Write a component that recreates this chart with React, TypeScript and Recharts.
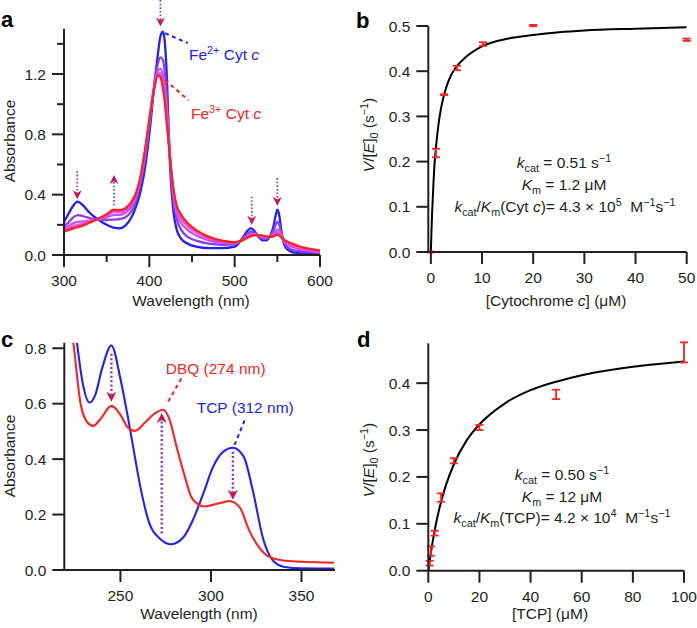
import React from 'react';
import { LineChart, ComposedChart, Line, Scatter, ErrorBar, XAxis, YAxis, ReferenceLine } from 'recharts';

const FONT = '"Liberation Sans", Arial, Helvetica, sans-serif';
const INK = '#231f20';
const BLUE = '#2020ff';
const RED = '#ff2020';
const PURPLE = '#8a3df5';
const VIOLET = '#bf55f5';
const PINK = '#f048e0';
const ARROW_LINE = '#8a30c8';
const ARROW_HEAD = '#cc1450';

// ---- panel a: cytochrome c spectra ----
const WL_A = [300, 305, 310, 316, 322, 330, 340, 350, 358, 365, 372, 380, 385, 390, 395, 400, 405, 410, 413, 416, 418, 420, 424, 428, 432, 437, 445, 455, 470, 485, 500, 505, 510, 515, 519, 523, 528, 533, 537, 541, 545, 548, 550, 552, 555, 558, 562, 570, 580, 600];
const FE2_A = [0.22, 0.27, 0.32, 0.354, 0.33, 0.28, 0.235, 0.2, 0.182, 0.177, 0.195, 0.26, 0.33, 0.43, 0.58, 0.8, 1.08, 1.33, 1.45, 1.48, 1.42, 1.25, 0.62, 0.3, 0.17, 0.11, 0.075, 0.055, 0.045, 0.045, 0.055, 0.08, 0.12, 0.16, 0.178, 0.16, 0.12, 0.097, 0.097, 0.12, 0.18, 0.26, 0.3, 0.27, 0.15, 0.07, 0.035, 0.015, 0.01, 0.005];
const MID1_A = [0.19, 0.215, 0.245, 0.265, 0.258, 0.245, 0.235, 0.232, 0.235, 0.238, 0.25, 0.3, 0.37, 0.48, 0.64, 0.86, 1.1, 1.27, 1.31, 1.29, 1.22, 1.1, 0.66, 0.37, 0.24, 0.17, 0.12, 0.095, 0.075, 0.068, 0.07, 0.085, 0.11, 0.14, 0.155, 0.148, 0.125, 0.11, 0.108, 0.12, 0.155, 0.2, 0.22, 0.205, 0.14, 0.085, 0.05, 0.03, 0.022, 0.012];
const MID2_A = [0.175, 0.19, 0.208, 0.22, 0.222, 0.228, 0.237, 0.25, 0.265, 0.266, 0.28, 0.33, 0.395, 0.505, 0.67, 0.88, 1.09, 1.22, 1.235, 1.19, 1.12, 1.0, 0.66, 0.41, 0.28, 0.215, 0.165, 0.13, 0.097, 0.08, 0.077, 0.087, 0.105, 0.127, 0.14, 0.14, 0.128, 0.118, 0.115, 0.12, 0.138, 0.16, 0.17, 0.162, 0.125, 0.092, 0.068, 0.05, 0.035, 0.02];
const MID3_A = [0.163, 0.175, 0.188, 0.2, 0.207, 0.222, 0.24, 0.262, 0.285, 0.284, 0.297, 0.345, 0.41, 0.52, 0.69, 0.89, 1.085, 1.2, 1.205, 1.14, 1.06, 0.94, 0.66, 0.43, 0.31, 0.245, 0.19, 0.15, 0.11, 0.09, 0.082, 0.088, 0.1, 0.12, 0.13, 0.135, 0.13, 0.123, 0.12, 0.12, 0.128, 0.142, 0.15, 0.145, 0.12, 0.096, 0.078, 0.06, 0.042, 0.025];
const FE3_A = [0.155, 0.165, 0.175, 0.185, 0.195, 0.215, 0.24, 0.27, 0.3, 0.298, 0.31, 0.36, 0.42, 0.53, 0.7, 0.9, 1.08, 1.19, 1.18, 1.1, 1.02, 0.9, 0.66, 0.45, 0.33, 0.27, 0.21, 0.165, 0.12, 0.095, 0.085, 0.09, 0.1, 0.115, 0.125, 0.13, 0.132, 0.128, 0.124, 0.12, 0.122, 0.13, 0.135, 0.13, 0.115, 0.1, 0.088, 0.07, 0.05, 0.03];
const SERIES_A = [
  { values: FE2_A, color: BLUE },
  { values: MID1_A, color: PURPLE },
  { values: MID2_A, color: VIOLET },
  { values: MID3_A, color: PINK },
  { values: FE3_A, color: RED },
];
const ARROWS_A = [
  { x: 315.5, from: 0.557, to: 0.37 },
  { x: 358.6, from: 0.33, to: 0.53 },
  { x: 413, from: 1.69, to: 1.515 },
  { x: 520, from: 0.387, to: 0.2 },
  { x: 550, from: 0.51, to: 0.327 },
];
const LEADERS_A = [
  { color: BLUE, x1: 418.5, y1: 1.47, x2: 445, y2: 1.405 },
  { color: RED, x1: 418.4, y1: 1.16, x2: 445.7, y2: 1.028 },
];

// ---- panel b: cytochrome c kinetics ----
const CONC_B = [0, 1, 2.6, 5.1, 10.2, 20, 50];
const RATE_B = [0, 0.219, 0.348, 0.407, 0.46, 0.501, 0.4695];
const ERR_B = [0.001, 0.0095, 0.001, 0.005, 0.004, 0.0015, 0.0025];
const FIT_X_B = [0, 0.1, 0.25, 0.5, 0.75, 1, 1.5, 2, 3, 4, 5, 7, 10, 15, 20, 25, 30, 40, 50];
const FIT_Y_B = [0, 0.04, 0.088, 0.15, 0.2, 0.232, 0.283, 0.319, 0.364, 0.392, 0.41, 0.433, 0.455, 0.472, 0.48, 0.486, 0.49, 0.494, 0.497];

// ---- panel c: TCP / DBQ spectra ----
const WL_TCP = [219, 222, 226, 229, 233, 236, 240, 245, 250, 254, 257, 261, 266, 272, 278, 285, 290, 296, 301, 307, 312, 318, 323, 329, 334, 340, 350, 368];
const ABS_TCP = [1.3, 1.05, 0.82, 0.68, 0.604, 0.63, 0.73, 0.81, 0.69, 0.555, 0.445, 0.3, 0.168, 0.112, 0.093, 0.12, 0.18, 0.28, 0.37, 0.428, 0.441, 0.41, 0.29, 0.108, 0.036, 0.012, 0.006, 0.005];
const WL_DBQ = [219, 224, 228, 231, 235, 239, 245, 250, 254, 258, 264, 269, 273.5, 277, 281, 285, 289, 293, 296, 301, 306, 310, 316, 321, 327, 332, 340, 350, 368];
const ABS_DBQ = [1.05, 0.82, 0.6, 0.54, 0.52, 0.545, 0.592, 0.56, 0.515, 0.502, 0.535, 0.565, 0.578, 0.545, 0.445, 0.35, 0.265, 0.237, 0.229, 0.235, 0.243, 0.249, 0.225, 0.144, 0.078, 0.048, 0.034, 0.03, 0.026];
const ARROWS_C = [
  { x: 245, from: 0.78, to: 0.607 },
  { x: 272.8, from: 0.132, to: 0.566 },
  { x: 312.1, from: 0.427, to: 0.253 },
];
const LEADERS_C = [
  { color: RED, x1: 276.4, y1: 0.608, x2: 283.7, y2: 0.692 },
  { color: BLUE, x1: 313, y1: 0.451, x2: 318.6, y2: 0.54 },
];

// ---- panel d: TCP kinetics ----
const CONC_D = [0.5, 1, 2.5, 5, 10, 20, 50, 100];
const RATE_D = [0.016, 0.042, 0.08, 0.156, 0.2345, 0.3055, 0.376, 0.4655];
const ERR_D = [0.005, 0.01, 0.005, 0.009, 0.0055, 0.0055, 0.01, 0.0215];
const FIT_X_D = [0, 1, 2, 3, 5, 7, 10, 15, 20, 30, 40, 50, 60, 70, 80, 90, 100];
const FIT_Y_D = [0, 0.038, 0.071, 0.1, 0.147, 0.184, 0.227, 0.278, 0.312, 0.357, 0.385, 0.403, 0.417, 0.427, 0.435, 0.441, 0.446];

const TICK = 12;
const MINOR = 7;
const XM = 8;
const YM = 6;
const FS = 15.5;

const near = (list: number[], v: number) => list.some((m) => Math.abs(m - v) < 1e-6);

function xTick(majors: number[], fmt: (v: number) => string) {
  return (p: any) => {
    const v = p.payload.value;
    const major = near(majors, v);
    const y0 = p.y - TICK - XM;
    return (
      <g>
        <line x1={p.x} x2={p.x} y1={y0} y2={y0 + (major ? TICK : MINOR)} stroke={INK} strokeWidth={2} />
        {major && (
          <text x={p.x} y={p.y} dy="0.71em" textAnchor="middle" fontFamily={FONT} fontSize={FS} fill={INK}>
            {fmt(v)}
          </text>
        )}
      </g>
    );
  };
}

function yTick(majors: number[], fmt: (v: number) => string) {
  return (p: any) => {
    const v = p.payload.value;
    const major = near(majors, v);
    const x0 = p.x + TICK + YM;
    return (
      <g>
        <line x1={x0 - (major ? TICK : MINOR)} x2={x0} y1={p.y} y2={p.y} stroke={INK} strokeWidth={2} />
        {major && (
          <text x={p.x} y={p.y} dy="0.355em" textAnchor="end" fontFamily={FONT} fontSize={FS} fill={INK}>
            {fmt(v)}
          </text>
        )}
      </g>
    );
  };
}

const arrowShape = (width: number, dash: string, hl: number, hw: number) => (p: any) => {
  const { x1, y1, x2, y2 } = p;
  const dx = x2 - x1;
  const dy = y2 - y1;
  const len = Math.hypot(dx, dy) || 1;
  const ux = dx / len;
  const uy = dy / len;
  const bx = x2 - ux * hl;
  const by = y2 - uy * hl;
  const nx = -uy;
  const ny = ux;
  const kx = x2 - ux * hl * 0.7;
  const ky = y2 - uy * hl * 0.7;
  return (
    <g>
      <line x1={x1} y1={y1} x2={kx} y2={ky} stroke={ARROW_LINE} strokeWidth={width} strokeDasharray={dash} />
      <polygon points={`${x2},${y2} ${bx + nx * hw},${by + ny * hw} ${kx},${ky} ${bx - nx * hw},${by - ny * hw}`} fill={ARROW_HEAD} />
    </g>
  );
};

const arrowA = arrowShape(1.7, '1.6 2', 9, 4.5);
const arrowC = arrowShape(2.4, '2 2.4', 10, 5);

const leaderShape = (color: string) => (p: any) => (
  <line x1={p.x1} y1={p.y1} x2={p.x2} y2={p.y2} stroke={color} strokeWidth={2} strokeDasharray="4 3.5" />
);

const axisLine = { stroke: INK, strokeWidth: 2 };
const f1 = (v: number) => v.toFixed(1);
const f0 = (v: number) => String(v);

function PanelA() {
  return (
    <LineChart width={340} height={300} margin={{ top: 28.75, right: 20, bottom: 0, left: 0 }}>
      <XAxis
        type="number"
        dataKey="x"
        domain={[300, 600]}
        ticks={[300, 350, 400, 450, 500, 550, 600]}
        interval={0}
        height={45}
        tickSize={TICK}
        tickMargin={XM}
        tickLine={false}
        axisLine={axisLine}
        tick={xTick([300, 400, 500, 600], f0)}
        allowDataOverflow
      />
      <YAxis
        type="number"
        domain={[0, 1.5]}
        ticks={[0, 0.2, 0.4, 0.6, 0.8, 1.0, 1.2, 1.4]}
        interval={0}
        width={64}
        tickSize={TICK}
        tickMargin={YM}
        tickLine={false}
        axisLine={axisLine}
        tick={yTick([0, 0.4, 0.8, 1.2], f1)}
        allowDataOverflow
      />
      {SERIES_A.map((s, k) => (
        <Line
          key={k}
          data={WL_A.map((x, i) => ({ x, v: s.values[i] }))}
          dataKey="v"
          type="monotone"
          stroke={s.color}
          strokeWidth={2.3}
          dot={false}
          isAnimationActive={false}
        />
      ))}
      {ARROWS_A.map((a, i) => (
        <ReferenceLine key={`ar${i}`} segment={[{ x: a.x, y: a.from }, { x: a.x, y: a.to }]} ifOverflow="visible" shape={arrowA} />
      ))}
      {LEADERS_A.map((l, i) => (
        <ReferenceLine key={`ld${i}`} segment={[{ x: l.x1, y: l.y1 }, { x: l.x2, y: l.y2 }]} ifOverflow="visible" shape={leaderShape(l.color)} />
      ))}
    </LineChart>
  );
}

function PanelC() {
  return (
    <LineChart width={340} height={328} margin={{ top: 42.7, right: 5, bottom: 0, left: 0 }}>
      <XAxis
        type="number"
        dataKey="x"
        domain={[219, 368.5]}
        ticks={[250, 300, 350]}
        interval={0}
        height={58}
        tickSize={TICK}
        tickMargin={XM}
        tickLine={false}
        axisLine={axisLine}
        tick={xTick([250, 300, 350], f0)}
        allowDataOverflow
      />
      <YAxis
        type="number"
        domain={[0, 0.82]}
        ticks={[0, 0.2, 0.4, 0.6, 0.8]}
        interval={0}
        width={64.3}
        tickSize={TICK}
        tickMargin={YM}
        tickLine={false}
        axisLine={axisLine}
        tick={yTick([0, 0.2, 0.4, 0.6, 0.8], f1)}
        allowDataOverflow
      />
      <Line
        data={WL_TCP.map((x, i) => ({ x, v: ABS_TCP[i] }))}
        dataKey="v"
        type="monotone"
        stroke={BLUE}
        strokeWidth={2.1}
        dot={false}
        isAnimationActive={false}
      />
      <Line
        data={WL_DBQ.map((x, i) => ({ x, v: ABS_DBQ[i] }))}
        dataKey="v"
        type="monotone"
        stroke={RED}
        strokeWidth={2.1}
        dot={false}
        isAnimationActive={false}
      />
      {ARROWS_C.map((a, i) => (
        <ReferenceLine key={`ar${i}`} segment={[{ x: a.x, y: a.from }, { x: a.x, y: a.to }]} ifOverflow="visible" shape={arrowC} />
      ))}
      {LEADERS_C.map((l, i) => (
        <ReferenceLine key={`ld${i}`} segment={[{ x: l.x1, y: l.y1 }, { x: l.x2, y: l.y2 }]} ifOverflow="visible" shape={leaderShape(l.color)} />
      ))}
    </LineChart>
  );
}

function KineticsPanel(props: {
  height: number;
  top: number;
  right: number;
  xHeight: number;
  xDomain: [number, number];
  xTicks: number[];
  yDomain: [number, number];
  yTicks: number[];
  fitX: number[];
  fitY: number[];
  conc: number[];
  rate: number[];
  err: number[];
}) {
  const fit = props.fitX.map((x, i) => ({ x, v: props.fitY[i] }));
  const pts = props.conc.map((x, i) => ({ x, v: props.rate[i], err: props.err[i] }));
  return (
    <ComposedChart width={357} height={props.height} margin={{ top: props.top, right: props.right, bottom: 0, left: 0 }}>
      <XAxis
        type="number"
        dataKey="x"
        domain={props.xDomain}
        ticks={props.xTicks}
        interval={0}
        height={props.xHeight}
        tickSize={TICK}
        tickMargin={XM}
        tickLine={false}
        axisLine={axisLine}
        tick={xTick(props.xTicks, f0)}
        allowDataOverflow
      />
      <YAxis
        type="number"
        domain={props.yDomain}
        ticks={props.yTicks}
        interval={0}
        width={88.3}
        tickSize={TICK}
        tickMargin={YM}
        tickLine={false}
        axisLine={axisLine}
        tick={yTick(props.yTicks, f1)}
        allowDataOverflow
      />
      <Line data={fit} dataKey="v" type="monotone" stroke="#000" strokeWidth={2} dot={false} isAnimationActive={false} />
      <Scatter data={pts} dataKey="v" shape={() => <g />} isAnimationActive={false}>
        <ErrorBar dataKey="err" direction="y" width={4} stroke={RED} strokeWidth={1.8} isAnimationActive={false} />
      </Scatter>
    </ComposedChart>
  );
}

const SUB = 10.8;

function Overlay() {
  const t = { fontFamily: FONT, fontSize: FS, fill: INK } as const;
  return (
    <svg width={697} height={628} style={{ position: 'absolute', left: 0, top: 0, pointerEvents: 'none' }}>
      {/* panel letters */}
      <text x={1} y={27} fontFamily={FONT} fontSize={22} fontWeight="bold" fill="#000">a</text>
      <text x={356} y={28} fontFamily={FONT} fontSize={22} fontWeight="bold" fill="#000">b</text>
      <text x={1} y={347} fontFamily={FONT} fontSize={22} fontWeight="bold" fill="#000">c</text>
      <text x={357} y={347} fontFamily={FONT} fontSize={22} fontWeight="bold" fill="#000">d</text>

      {/* axis titles */}
      <text x={191} y={306} textAnchor="middle" {...t}>Wavelength (nm)</text>
      <text transform="translate(15,141) rotate(-90)" textAnchor="middle" {...t}>Absorbance</text>
      <text x={556} y={306} textAnchor="middle" {...t}>
        [Cytochrome <tspan fontStyle="italic">c</tspan>] (μM)
      </text>
      <text transform="translate(374,135) rotate(-90)" textAnchor="middle" {...t}>
        <tspan fontStyle="italic">V</tspan>/[<tspan fontStyle="italic">E</tspan>]
        <tspan fontSize={SUB} dy={4}>0</tspan>
        <tspan dy={-4}> (s</tspan>
        <tspan fontSize={SUB} dy={-6}>−1</tspan>
        <tspan dy={6}>)</tspan>
      </text>
      <text x={199} y={619} textAnchor="middle" {...t}>Wavelength (nm)</text>
      <text transform="translate(15,456) rotate(-90)" textAnchor="middle" {...t}>Absorbance</text>
      <text x={550} y={619} textAnchor="middle" {...t}>[TCP] (μM)</text>
      <text transform="translate(374,460) rotate(-90)" textAnchor="middle" {...t}>
        <tspan fontStyle="italic">V</tspan>/[<tspan fontStyle="italic">E</tspan>]
        <tspan fontSize={SUB} dy={4}>0</tspan>
        <tspan dy={-4}> (s</tspan>
        <tspan fontSize={SUB} dy={-6}>−1</tspan>
        <tspan dy={6}>)</tspan>
      </text>

      {/* panel a labels */}
      <text x={189} y={60} {...t} fill={BLUE}>
        Fe<tspan fontSize={SUB} dy={-6}>2+</tspan>
        <tspan dy={6}> Cyt </tspan>
        <tspan fontStyle="italic">c</tspan>
      </text>
      <text x={191} y={119} {...t} fill={RED}>
        Fe<tspan fontSize={SUB} dy={-6}>3+</tspan>
        <tspan dy={6}> Cyt </tspan>
        <tspan fontStyle="italic">c</tspan>
      </text>

      {/* panel c labels */}
      <text x={165.7} y={374} {...t} fill={RED}>DBQ (274 nm)</text>
      <text x={196.7} y={413} {...t} fill={BLUE}>TCP (312 nm)</text>

      {/* panel b constants */}
      <text x={564} y={168} textAnchor="middle" {...t}>
        <tspan fontStyle="italic">k</tspan>
        <tspan fontSize={SUB} dy={4}>cat</tspan>
        <tspan dy={-4}> = 0.51 s</tspan>
        <tspan fontSize={SUB} dy={-6}>−1</tspan>
      </text>
      <text x={564} y={190} textAnchor="middle" {...t}>
        <tspan fontStyle="italic">K</tspan>
        <tspan fontSize={SUB} dy={4}>m</tspan>
        <tspan dy={-4}> = 1.2 μM</tspan>
      </text>
      <text x={565} y={212} textAnchor="middle" {...t}>
        <tspan fontStyle="italic">k</tspan>
        <tspan fontSize={SUB} dy={4}>cat</tspan>
        <tspan dy={-4}>/</tspan>
        <tspan fontStyle="italic">K</tspan>
        <tspan fontSize={SUB} dy={4}>m</tspan>
        <tspan dy={-4}>(Cyt </tspan>
        <tspan fontStyle="italic">c</tspan>
        <tspan>)= 4.3 × 10</tspan>
        <tspan fontSize={SUB} dy={-6}>5</tspan>
        <tspan dy={6}>{'\u00a0\u00a0'}M</tspan>
        <tspan fontSize={SUB} dy={-6}>−1</tspan>
        <tspan dy={6}>s</tspan>
        <tspan fontSize={SUB} dy={-6}>−1</tspan>
      </text>

      {/* panel d constants */}
      <text x={562} y={480} textAnchor="middle" {...t}>
        <tspan fontStyle="italic">k</tspan>
        <tspan fontSize={SUB} dy={4}>cat</tspan>
        <tspan dy={-4}> = 0.50 s</tspan>
        <tspan fontSize={SUB} dy={-6}>−1</tspan>
      </text>
      <text x={562} y={502} textAnchor="middle" {...t}>
        <tspan fontStyle="italic">K</tspan>
        <tspan fontSize={SUB} dy={4}>m</tspan>
        <tspan dy={-4}> = 12 μM</tspan>
      </text>
      <text x={562} y={523} textAnchor="middle" {...t}>
        <tspan fontStyle="italic">k</tspan>
        <tspan fontSize={SUB} dy={4}>cat</tspan>
        <tspan dy={-4}>/</tspan>
        <tspan fontStyle="italic">K</tspan>
        <tspan fontSize={SUB} dy={4}>m</tspan>
        <tspan dy={-4}>(TCP)= 4.2 × 10</tspan>
        <tspan fontSize={SUB} dy={-6}>4</tspan>
        <tspan dy={6}>{'\u00a0\u00a0'}M</tspan>
        <tspan fontSize={SUB} dy={-6}>−1</tspan>
        <tspan dy={6}>s</tspan>
        <tspan fontSize={SUB} dy={-6}>−1</tspan>
      </text>
    </svg>
  );
}

export default function App() {
  return (
    <div style={{ position: 'absolute', left: 0, top: 0, width: 697, height: 628, background: '#fff', fontFamily: FONT }}>
      <div style={{ position: 'absolute', left: 0, top: 0 }}>
        <PanelA />
      </div>
      <div style={{ position: 'absolute', left: 340, top: 0 }}>
        <KineticsPanel
          height={300}
          top={26}
          right={10.3}
          xHeight={48}
          xDomain={[-0.5, 50]}
          xTicks={[0, 10, 20, 30, 40, 50]}
          yDomain={[0, 0.5]}
          yTicks={[0, 0.1, 0.2, 0.3, 0.4, 0.5]}
          fitX={FIT_X_B}
          fitY={FIT_Y_B}
          conc={CONC_B}
          rate={RATE_B}
          err={ERR_B}
        />
      </div>
      <div style={{ position: 'absolute', left: 0, top: 300 }}>
        <PanelC />
      </div>
      <div style={{ position: 'absolute', left: 340, top: 300 }}>
        <KineticsPanel
          height={328}
          top={43.3}
          right={13}
          xHeight={57.3}
          xDomain={[0, 100]}
          xTicks={[0, 20, 40, 60, 80, 100]}
          yDomain={[0, 0.485]}
          yTicks={[0, 0.1, 0.2, 0.3, 0.4]}
          fitX={FIT_X_D}
          fitY={FIT_Y_D}
          conc={CONC_D}
          rate={RATE_D}
          err={ERR_D}
        />
      </div>
      <Overlay />
    </div>
  );
}
